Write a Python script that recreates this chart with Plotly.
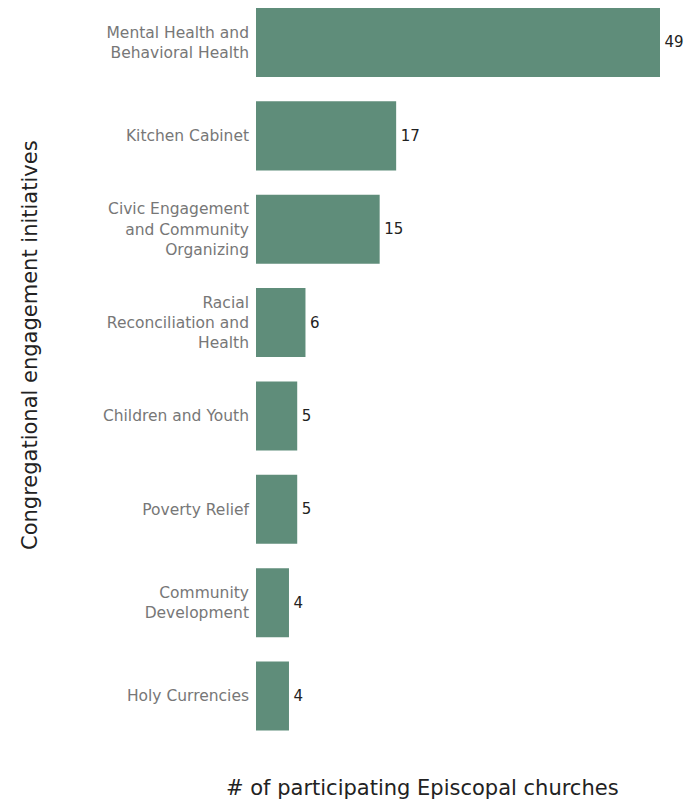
import plotly.graph_objects as go

categories = [
    "Mental Health and<br>Behavioral Health",
    "Kitchen Cabinet",
    "Civic Engagement<br>and Community<br>Organizing",
    "Racial<br>Reconciliation and<br>Health",
    "Children and Youth",
    "Poverty Relief",
    "Community<br>Development",
    "Holy Currencies",
]
values = [49, 17, 15, 6, 5, 5, 4, 4]

FONT = "DejaVu Sans, Verdana, sans-serif"

W, H = 687, 799
L, R, T, B = 256, 27, 0, 56
PW, PH = W - L - R, H - T - B

fig = go.Figure(go.Bar(
    y=categories,
    x=values,
    orientation="h",
    marker=dict(color="rgb(95,141,122)", line=dict(width=0)),
    text=values,
    texttemplate="\u200a%{x}",
    textposition="outside",
    textfont=dict(family=FONT, size=15, color="#222"),
    cliponaxis=False,
    width=0.74,
    hoverinfo="skip",
))

fig.update_layout(
    width=W, height=H,
    margin=dict(l=L, r=R, t=T, b=B, pad=0),
    plot_bgcolor="white", paper_bgcolor="white",
    font=dict(family=FONT, size=15, color="#777"),
    showlegend=False,
    xaxis=dict(range=[0, 49], showticklabels=False, showgrid=False, zeroline=False,
               showline=False, ticks=""),
    yaxis=dict(range=[7.503, -0.455], showgrid=False, zeroline=False, showline=False,
               ticks="", ticklabelstandoff=6,
               tickfont=dict(family=FONT, size=15.5, color="#777")),
    annotations=[
        dict(text="# of participating Episcopal churches", xref="paper", yref="paper",
             x=(422 - L) / PW, y=-(788 - PH) / PH, xanchor="center", yanchor="middle",
             showarrow=False, font=dict(family=FONT, size=21, color="#222")),
        dict(text="Congregational engagement initiatives", xref="paper", yref="paper",
             x=-(L - 30) / PW, y=1 - 345 / PH, xanchor="center", yanchor="middle",
             textangle=-90, showarrow=False, font=dict(family=FONT, size=21, color="#222")),
    ],
)

fig.write_html(
    "out.html",
    config={"displayModeBar": False},
    post_script="document.body.style.margin='0';document.body.style.overflow='hidden';",
)
